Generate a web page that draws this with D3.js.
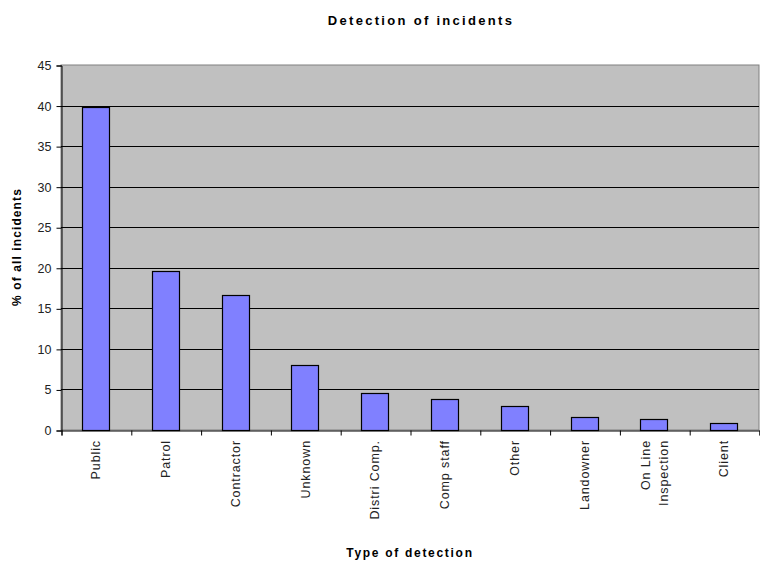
<!DOCTYPE html>
<html>
<head>
<meta charset="utf-8">
<script src="https://cdn.jsdelivr.net/npm/d3@7"></script>
<style>
  body { margin: 0; background: #fff; }
  text { font-family: "Liberation Sans", Arial, sans-serif; }
</style>
</head>
<body>
<svg id="chart" width="760" height="566"></svg>
<script>
// Share of incidents by how they were detected
const categories = ["Public", "Patrol", "Contractor", "Unknown", "Distri Comp.",
                    "Comp staff", "Other", "Landowner", "On Line\nInspection", "Client"];
const values = [39.8, 19.6, 16.6, 8.0, 4.6, 3.8, 2.9, 1.6, 1.3, 0.9];
const yTicks = [0, 5, 10, 15, 20, 25, 30, 35, 40, 45];

const titleText = "Detection of incidents";
const xTitle = "Type of detection";
const yTitle = "% of all incidents";

const svg = d3.select("#chart");
const plot = { left: 61, right: 759, top: 65, bottom: 430 };

const x = d3.scaleBand()
  .domain(categories)
  .range([plot.left, plot.right])
  .paddingInner(0.6)
  .paddingOuter(0.3);

const y = d3.scaleLinear()
  .domain([0, 45])
  .range([plot.bottom, plot.top]);

// index scale used for the category separator ticks
const xi = d3.scaleLinear().domain([0, categories.length]).range([plot.left, plot.right]);

// plot background
svg.append("rect")
  .attr("x", plot.left).attr("y", plot.top)
  .attr("width", plot.right - plot.left).attr("height", plot.bottom - plot.top)
  .attr("fill", "#c0c0c0")
  .attr("stroke", "#808080").attr("stroke-width", 1);

// horizontal gridlines
svg.append("g")
  .selectAll("line")
  .data(yTicks.filter(d => d > 0 && d < 45))
  .join("line")
  .attr("x1", plot.left).attr("x2", plot.right)
  .attr("y1", d => Math.round(y(d)) + 0.5).attr("y2", d => Math.round(y(d)) + 0.5)
  .attr("stroke", "#000").attr("stroke-width", 1);

// bars
svg.append("g")
  .selectAll("rect")
  .data(categories.map((c, i) => ({ c, v: values[i] })))
  .join("rect")
  .attr("x", d => Math.round(x(d.c)) + 0.5)
  .attr("y", d => Math.round(y(d.v)) + 0.5)
  .attr("width", d => Math.round(x.bandwidth()) - 1)
  .attr("height", d => Math.round(y(0)) - Math.round(y(d.v)))
  .attr("fill", "#8080ff")
  .attr("stroke", "#000").attr("stroke-width", 1.2);

// y axis
const yAxis = svg.append("g")
  .attr("transform", `translate(${plot.left + 0.5},0.5)`)
  .call(d3.axisLeft(y).tickValues(yTicks).tickSize(5).tickPadding(5).tickFormat(d3.format("d")));
yAxis.select(".domain").attr("stroke", "#000");
yAxis.selectAll(".tick line").attr("stroke", "#000");
yAxis.selectAll("text")
  .attr("font-size", 12.5).attr("fill", "#222")
  .style("font-family", "'Liberation Sans', Arial, sans-serif");

// x axis line and separator ticks
const xAxis = svg.append("g")
  .attr("transform", `translate(0.5,${plot.bottom + 0.5})`)
  .call(d3.axisBottom(xi).ticks(categories.length).tickSize(5).tickFormat(""));
xAxis.select(".domain").attr("stroke", "#000");
xAxis.selectAll(".tick line").attr("stroke", "#000");

// rotated category labels
const labels = svg.append("g")
  .selectAll("text")
  .data(categories)
  .join("text")
  .attr("transform", d => `translate(${x(d) + x.bandwidth() / 2},${plot.bottom + 10}) rotate(-90)`)
  .attr("text-anchor", "end")
  .attr("font-size", 12.5)
  .attr("letter-spacing", 0.9)
  .attr("fill", "#222");
labels.each(function (d) {
  const lines = d.split("\n");
  const t = d3.select(this);
  lines.forEach((ln, k) => {
    t.append("tspan")
      .attr("x", 0)
      .attr("y", (k - (lines.length - 1) / 2) * 18)
      .attr("dy", "0.35em")
      .text(ln);
  });
});

// titles
svg.append("text")
  .attr("x", 421).attr("y", 25)
  .attr("text-anchor", "middle")
  .attr("font-size", 13).attr("font-weight", "bold")
  .attr("letter-spacing", 2.3)
  .text(titleText);

svg.append("text")
  .attr("x", 410).attr("y", 557)
  .attr("text-anchor", "middle")
  .attr("font-size", 12).attr("font-weight", "bold")
  .attr("letter-spacing", 1.7)
  .text(xTitle);

svg.append("text")
  .attr("transform", `translate(21,247) rotate(-90)`)
  .attr("text-anchor", "middle")
  .attr("font-size", 12).attr("font-weight", "bold")
  .attr("letter-spacing", 1.1)
  .text(yTitle);
</script>
</body>
</html>
